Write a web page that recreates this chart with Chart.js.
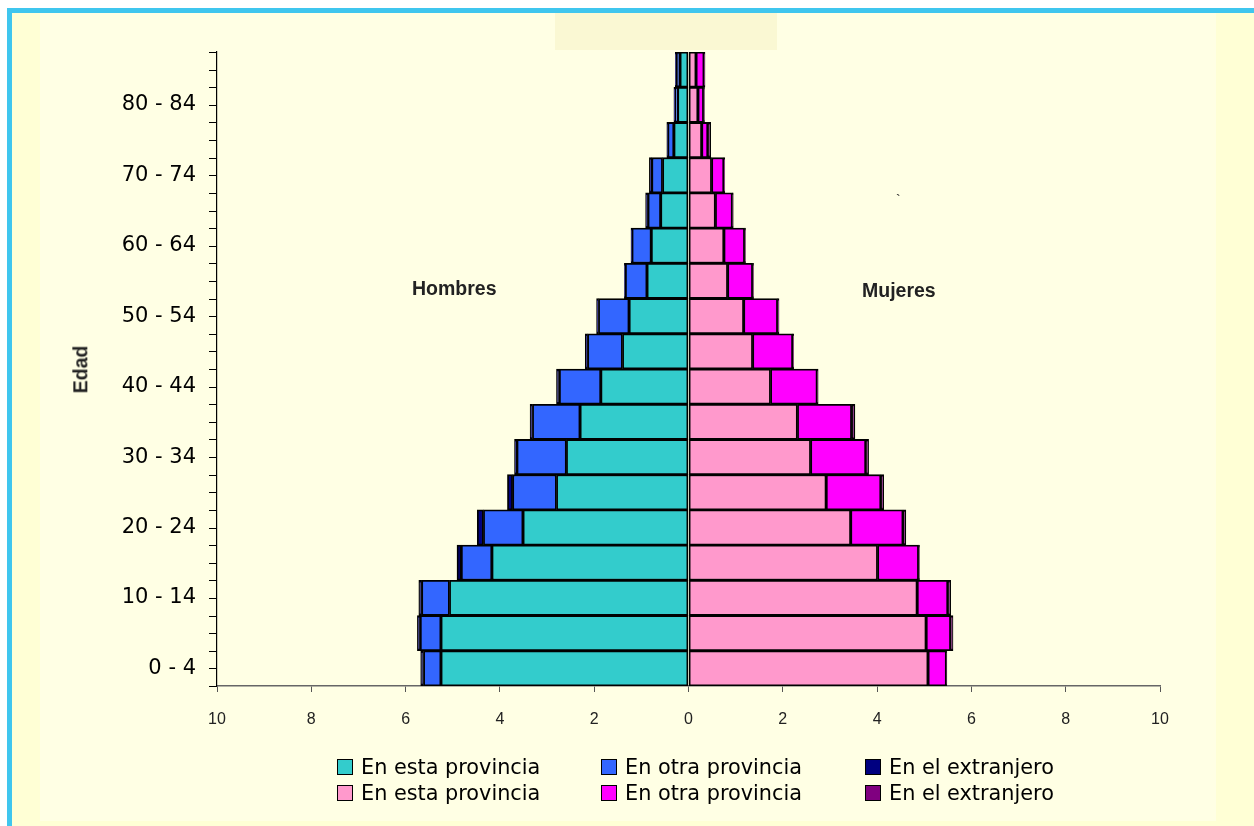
<!DOCTYPE html>
<html>
<head>
<meta charset="utf-8">
<script src="https://cdn.jsdelivr.net/npm/chart.js@4/dist/chart.umd.min.js"></script>
<style>
  html, body { margin:0; padding:0; background:#fff; width:1254px; height:826px; overflow:hidden; position:relative; }
  #frame { position:absolute; left:7px; top:8px; width:1247px; height:818px; background:#3FC6EE; }
  #outer { position:absolute; left:12px; top:13px; width:1242px; height:813px; background:#FFFFD5; }
  #inner { position:absolute; left:40px; top:13px; width:1176px; height:808px; background:#FFFFE4; }
  #titlebox { position:absolute; left:555px; top:13px; width:222px; height:37px; background:#FAF8D3; }
  #wrap { position:absolute; left:0; top:0; width:1254px; height:826px; }
  .lbl { position:absolute; font-family:"Liberation Sans", Arial, sans-serif; font-weight:bold; font-size:19.5px; color:#222; white-space:nowrap; }
  #legend { position:absolute; left:0; top:0; }
  .li { position:absolute; font-family:"DejaVu Sans", sans-serif; font-size:20.8px; color:#000; white-space:nowrap; line-height:20px; }
  .li span.box { position:absolute; left:-24px; top:2px; width:14px; height:14px; border:1.5px solid #000; }
</style>
</head>
<body>
<div id="frame"></div>
<div id="outer"></div>
<div id="inner"></div>
<div id="titlebox"></div>
<div id="wrap"><canvas id="c" width="1254" height="826"></canvas></div>
<div class="lbl" style="left:412px; top:277px;">Hombres</div>
<div class="lbl" style="left:862px; top:279px;">Mujeres</div>
<div class="lbl" style="left:57px; top:358px; transform:rotate(-90deg); transform-origin:center;">Edad</div>
<div class="lbl" style="left:896px; top:192px; font-weight:normal; font-size:14px;">`</div>
<div id="legend"></div>
<script>
const categories = ['0 - 4','5 - 9','10 - 14','15 - 19','20 - 24','25 - 29','30 - 34','35 - 39','40 - 44','45 - 49','50 - 54','55 - 59','60 - 64','65 - 69','70 - 74','75 - 79','80 - 84','85 y más'];
const xTickValues = [-10,-8,-6,-4,-2,0,2,4,6,8,10];

const hombresEsta = [5.25,5.25,5.07,4.17,3.51,2.80,2.59,2.30,1.86,1.40,1.26,0.88,0.79,0.59,0.55,0.31,0.23,0.18];
const hombresOtra = [0.37,0.44,0.59,0.65,0.84,0.93,1.05,1.01,0.88,0.74,0.65,0.46,0.41,0.27,0.23,0.13,0.05,0.08];
const hombresExtr = [0.06,0.06,0.06,0.09,0.13,0.11,0.05,0.05,0.06,0.05,0.04,0.02,0.02,0.05,0.05,0.02,0.03,0.02];

const mujeresEsta = [5.08,5.04,4.85,4.01,3.44,2.92,2.59,2.31,1.74,1.36,1.17,0.83,0.75,0.57,0.49,0.28,0.20,0.16];
const mujeresOtra = [0.39,0.52,0.65,0.87,1.11,1.16,1.17,1.15,0.99,0.85,0.72,0.53,0.44,0.36,0.26,0.13,0.12,0.17];
const mujeresExtr = [0.01,0.05,0.06,0.02,0.06,0.06,0.06,0.07,0.02,0.02,0.03,0.02,0.02,0.02,0.02,0.06,0.02,0.02];

const legendLabels = ['En esta provincia','En otra provincia','En el extranjero','En esta provincia','En otra provincia','En el extranjero'];
const colors = ['#33CCCC','#3366FF','#000080','#FF99CC','#FF00FF','#800080'];

const neg = a => a.map(v => -v);
const series = [neg(hombresEsta), neg(hombresOtra), neg(hombresExtr), mujeresEsta, mujeresOtra, mujeresExtr];

const datasets = series.map((d, i) => ({
  label: legendLabels[i],
  data: d,
  backgroundColor: colors[i],
  borderColor: '#000',
  borderWidth: 1.8,
  borderSkipped: false,
  stack: 'all',
  categoryPercentage: 1.0,
  barPercentage: 1.0
}));

const halfTicks = {
  id: 'halfTicks',
  afterDraw(chart) {
    const y = chart.scales.y, x = chart.scales.x;
    const ctx = chart.ctx;
    ctx.save();
    ctx.strokeStyle = '#000';
    ctx.lineWidth = 1;
    for (let v = -0.5; v <= categories.length - 0.5 + 1e-9; v += 0.5) {
      const py = Math.round(y.getPixelForValue(v)) + 0.5;
      ctx.beginPath();
      ctx.moveTo(x.left - 8, py);
      ctx.lineTo(x.left, py);
      ctx.stroke();
    }
    ctx.restore();
  }
};

new Chart(document.getElementById('c'), {
  type: 'bar',
  data: { labels: categories, datasets },
  options: {
    indexAxis: 'y',
    responsive: false,
    animation: false,
    layout: { padding: { top: 52, right: 94, left: 0, bottom: 0 } },
    plugins: { legend: { display: false }, tooltip: { enabled: false }, title: { display: false } },
    scales: {
      x: {
        type: 'linear', stacked: true, min: -10, max: 10,
        afterBuildTicks: s => { s.ticks = xTickValues.map(v => ({ value: v })); },
        afterFit: s => { s.height = 140; },
        grid: { display: true, drawOnChartArea: false, drawTicks: true, tickLength: 6, color: '#555' },
        border: { display: true, color: '#666', width: 1.5 },
        ticks: {
          padding: 18,
          color: '#222',
          font: { family: '"Liberation Sans", Arial, sans-serif', size: 16 },
          callback: v => String(Math.abs(v))
        }
      },
      y: {
        type: 'category', stacked: true, reverse: true, offset: true,
        afterFit: s => { s.width = 217; },
        grid: { display: false },
        border: { display: true, color: '#000', width: 1.2 },
        ticks: {
          autoSkip: false,
          padding: 13,
          color: '#000',
          font: { family: '"DejaVu Sans", sans-serif', size: 21 },
          callback: (v, i) => (i % 2 === 0 && i < 17) ? categories[i] : ''
        }
      }
    }
  },
  plugins: [halfTicks]
});

// legend (two rows, three columns)
const legendPos = [[361,757],[625,757],[889,757],[361,783],[625,783],[889,783]];
const lg = document.getElementById('legend');
legendLabels.forEach((t, i) => {
  const d = document.createElement('div');
  d.className = 'li';
  d.style.left = legendPos[i][0] + 'px';
  d.style.top = legendPos[i][1] + 'px';
  d.innerHTML = '<span class="box" style="background:' + colors[i] + '"></span>' + t;
  lg.appendChild(d);
});
</script>
</body>
</html>
